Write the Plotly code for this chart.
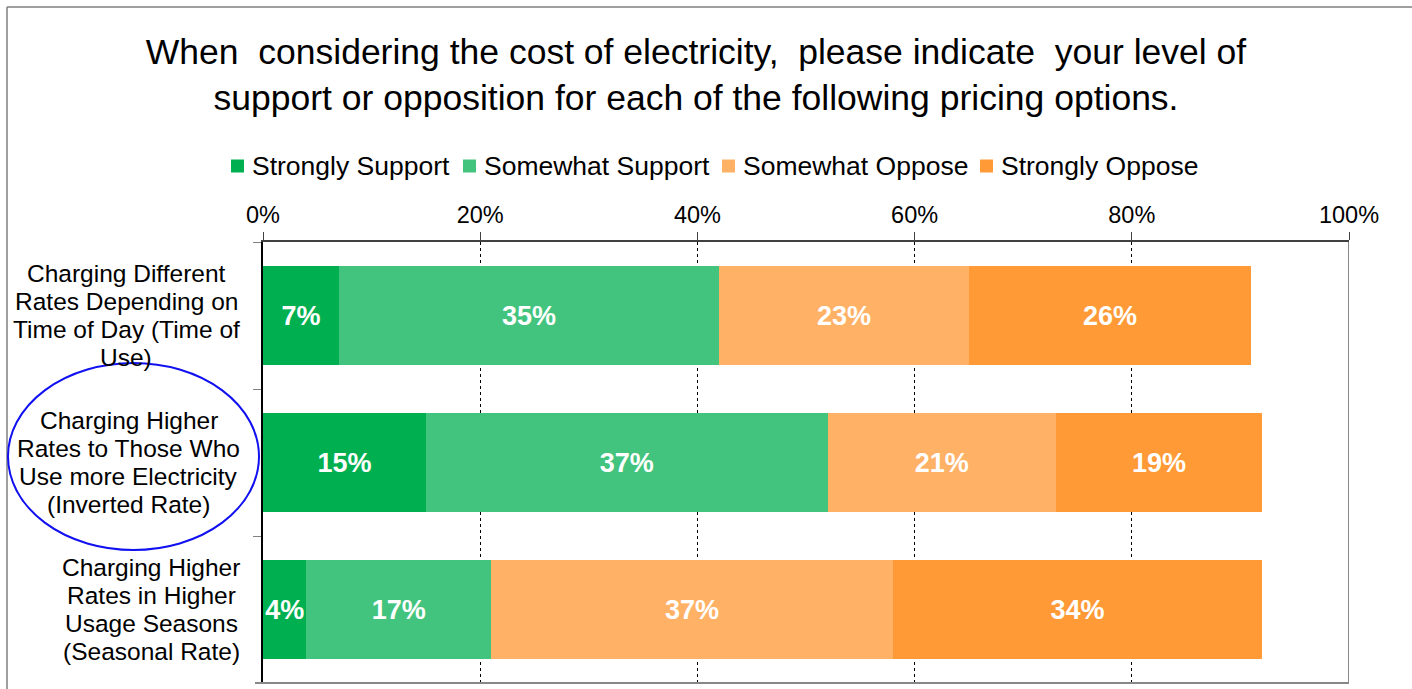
import plotly.graph_objects as go

# Survey responses (percent of respondents) for each pricing option
categories = [
    "Charging Different Rates Depending on Time of Day (Time of Use)",
    "Charging Higher Rates to Those Who Use more Electricity (Inverted Rate)",
    "Charging Higher Rates in Higher Usage Seasons (Seasonal Rate)",
]
category_lines = [
    ["Charging Different", "Rates Depending on", "Time of Day (Time of", "Use)"],
    ["Charging Higher", "Rates to Those Who", "Use more Electricity", "(Inverted Rate)"],
    ["Charging Higher", "Rates in Higher", "Usage Seasons", "(Seasonal Rate)"],
]
series_names = ["Strongly Support", "Somewhat Support", "Somewhat Oppose", "Strongly Oppose"]
strongly_support = [7, 15, 4]
somewhat_support = [35, 37, 17]
somewhat_oppose = [23, 21, 37]
strongly_oppose = [26, 19, 34]
x_ticks = [0, 20, 40, 60, 80, 100]
x_tick_labels = ["0%", "20%", "40%", "60%", "80%", "100%"]

series_values = [strongly_support, somewhat_support, somewhat_oppose, strongly_oppose]
colors = ["#00B050", "#43C47E", "#FFB266", "#FF9A36"]

FONT = "Liberation Sans, Arial, sans-serif"
W, H = 1412, 689
ML, MR, MT, MB = 263, 63, 242, 6
PW, PH = W - ML - MR, H - MT - MB


def px_x(p):
    return (p - ML) / PW


def px_y(p):
    return (H - MB - p) / PH


fig = go.Figure()
for name, vals, col in zip(series_names, series_values, colors):
    fig.add_trace(go.Bar(
        y=categories, x=vals, name=name, orientation="h",
        marker=dict(color=col, line=dict(width=0)),
        width=0.667,
        text=[f"{v}%" for v in vals],
        textposition="inside", insidetextanchor="middle",
        textangle=0, constraintext="none",
        textfont=dict(family=FONT, size=27, color="white", weight="bold"),
        hoverinfo="skip", showlegend=False,
    ))

# Category labels: one annotation per line, block centred beside its bar
label_centres = [126, 128.5, 151]
annotations = []
for cat, lines, cx in zip(categories, category_lines, label_centres):
    n = len(lines)
    for i, line in enumerate(lines):
        annotations.append(dict(
            x=px_x(cx), xref="paper", y=cat, yref="y",
            text=line, showarrow=False, xanchor="center", yanchor="middle",
            yshift=-(i - (n - 1) / 2) * 28,
            font=dict(family=FONT, size=24.5, color="black"),
        ))

shapes = [
    # outer frame (left and top edges)
    dict(type="line", xref="paper", yref="paper",
         x0=px_x(7), x1=px_x(7), y0=px_y(700), y1=px_y(7),
         line=dict(color="#7F7F7F", width=1.5)),
    dict(type="line", xref="paper", yref="paper",
         x0=px_x(7), x1=px_x(1420), y0=px_y(7), y1=px_y(7),
         line=dict(color="#7F7F7F", width=1.5)),
    # plot area right and bottom border
    dict(type="line", xref="x", yref="paper", x0=100, x1=100, y0=0, y1=1,
         line=dict(color="#888888", width=2)),
    dict(type="line", xref="paper", yref="paper",
         x0=px_x(255), x1=px_x(1349), y0=0, y1=0,
         line=dict(color="#888888", width=2)),
    # highlight around the inverted-rate option
    dict(type="circle", xref="paper", yref="paper",
         x0=px_x(8), x1=px_x(259), y0=px_y(550), y1=px_y(363),
         line=dict(color="#1010F0", width=2)),
]

# Compact legend row: colour square followed by its series name
legend_square_left = [231, 463, 722, 980]
legend_y = 166
for name, col, sx in zip(series_names, colors, legend_square_left):
    shapes.append(dict(
        type="rect", xref="paper", yref="paper",
        x0=px_x(sx), x1=px_x(sx + 13), y0=px_y(legend_y + 6.5), y1=px_y(legend_y - 6.5),
        fillcolor=col, line=dict(width=0),
    ))
    annotations.append(dict(
        x=px_x(sx + 19), xref="paper", y=px_y(legend_y), yref="paper",
        text=name, showarrow=False, xanchor="left", yanchor="middle",
        font=dict(family=FONT, size=26.5, color="black"),
    ))

fig.update_layout(
    width=W, height=H,
    margin=dict(l=ML, r=MR, t=MT, b=MB),
    paper_bgcolor="white", plot_bgcolor="white",
    barmode="stack",
    bargap=0.333,
    title=dict(
        text="When \u00a0considering the cost of electricity, \u00a0please indicate \u00a0your level of<br>"
             "support or opposition for each of the following pricing options.",
        x=696 / W, xref="container", xanchor="center",
        y=1 - 64 / H, yref="container", yanchor="middle",
        font=dict(family=FONT, size=35.5, color="black"),
    ),
    showlegend=False,
    xaxis=dict(
        side="top", range=[0, 100], tickmode="array",
        tickvals=x_ticks, ticktext=x_tick_labels,
        showgrid=True, gridcolor="black", griddash="dot", gridwidth=1,
        showline=True, linecolor="#404040", linewidth=2,
        ticks="outside", ticklen=8, tickcolor="#404040", tickwidth=1,
        tickfont=dict(family=FONT, size=23.5, color="black"),
        zeroline=False, fixedrange=True,
    ),
    yaxis=dict(
        categoryorder="array", categoryarray=categories, autorange="reversed",
        showticklabels=False, ticks="outside", tickson="boundaries",
        ticklen=8, tickcolor="#808080", tickwidth=1,
        showline=True, linecolor="black", linewidth=2,
        showgrid=False, zeroline=False, fixedrange=True,
    ),
    annotations=annotations,
    shapes=shapes,
)

fig.write_html("out.html")
